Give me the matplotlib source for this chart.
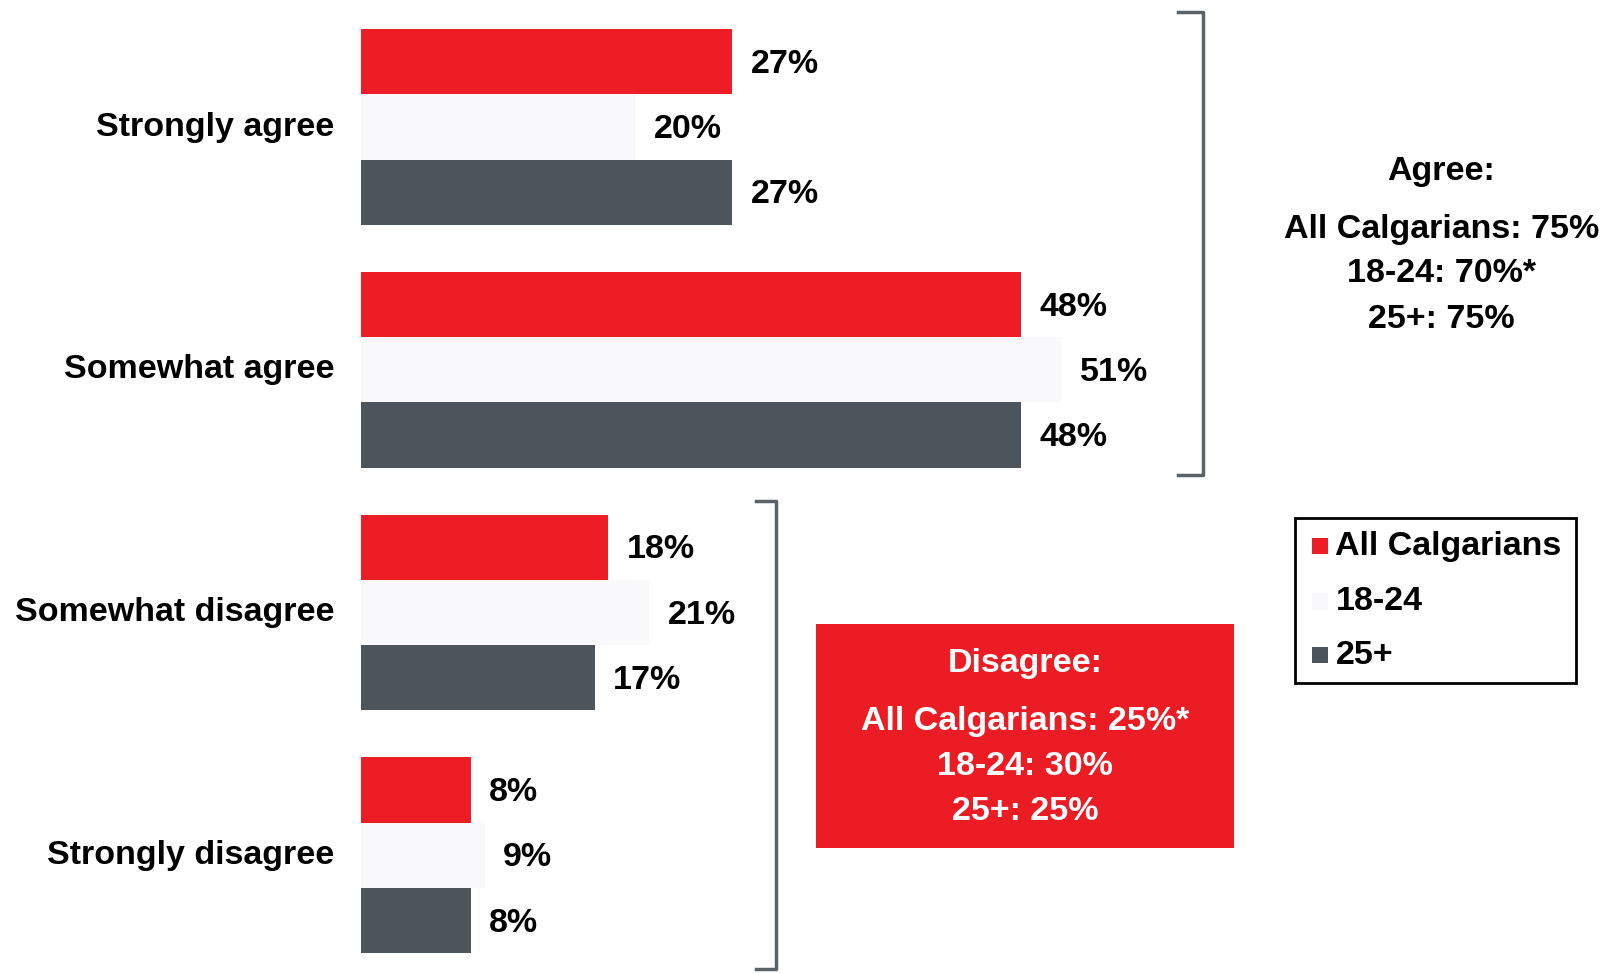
import matplotlib
matplotlib.use("Agg")
import matplotlib.pyplot as plt
from matplotlib.patches import Rectangle
from matplotlib.lines import Line2D

plt.rcParams['font.family'] = ['Liberation Sans', 'DejaVu Sans']
plt.rcParams['font.weight'] = 'bold'

categories = ["Strongly agree", "Somewhat agree", "Somewhat disagree", "Strongly disagree"]
series_names = ["All Calgarians", "18-24", "25+"]
all_calgarians = [27, 48, 18, 8]
age_18_24 = [20, 51, 21, 9]
age_25_plus = [27, 48, 17, 8]
series_values = [all_calgarians, age_18_24, age_25_plus]
series_colors = ["#ee1c24", "#f9f9fb", "#4c545c"]

agree_lines = ["Agree:", "All Calgarians: 75%", "18-24: 70%*", "25+: 75%"]
disagree_lines = ["Disagree:", "All Calgarians: 25%*", "18-24: 30%", "25+: 25%"]

FS = 24.5

W, H = 1612, 973
fig = plt.figure(figsize=(W / 100, H / 100), dpi=100)
fig.patch.set_facecolor("white")

# Pixel layout helpers (figure fraction from 1568x946 layout coordinates)
def fx(x):
    return x / 1568.0

def fy(y):
    return 1 - y / 946.0

# Axes covers the whole figure; x in percent, y in category units
px_per_pct = 13.37 * W / 1568.0
left_px = 351 * W / 1568.0
ax = fig.add_axes([0, 0, 1, 1])
ax.set_xlim(-left_px / px_per_pct, (W - left_px) / px_per_pct)
group_gap_px = 236.0
center0 = 123.5
ax.set_ylim((946 - center0) / group_gap_px, (0 - center0) / group_gap_px)
ax.axis("off")

bar_h = 63.5 / group_gap_px
offsets = [-bar_h, 0, bar_h]
label_pad = 18 / 13.37
label_dy = 2.5 / group_gap_px

for s, (vals, col, off) in enumerate(zip(series_values, series_colors, offsets)):
    ys = [i + off for i in range(len(categories))]
    ax.barh(ys, vals, height=bar_h, left=0, color=col, edgecolor="none")
    for y, v in zip(ys, vals):
        ax.text(v + label_pad, y + label_dy, f"{v}%", ha="left", va="center",
                fontsize=FS, fontweight="bold", color="black")

for i, cat in enumerate(categories):
    ax.text(-26 / 13.37, i, cat, ha="right", va="center",
            fontsize=FS, fontweight="bold", color="black")

bracket_color = "#5b6269"

def bracket(x, y0, y1, tick):
    xs = [fx(x - tick), fx(x), fx(x), fx(x - tick)]
    ys = [fy(y0), fy(y0), fy(y1), fy(y1)]
    fig.add_artist(Line2D(xs, ys, color=bracket_color, lw=2.5,
                          solid_joinstyle="round", transform=fig.transFigure))

bracket(1170, 12, 462, 24)
bracket(755, 487, 942, 20)

# Agree summary
for txt, y in zip(agree_lines, [167, 223, 266, 311]):
    fig.text(fx(1402), fy(y), txt, ha="center", va="center",
             fontsize=FS, fontweight="bold", color="black")

# Disagree summary box
fig.add_artist(Rectangle((fx(794), fy(824)), fx(1200) - fx(794), fy(607) - fy(824),
                         facecolor="#ec1c24", edgecolor="none", transform=fig.transFigure))
for txt, y in zip(disagree_lines, [645, 701, 745, 789]):
    fig.text(fx(997), fy(y), txt, ha="center", va="center",
             fontsize=FS, fontweight="bold", color="white")

# Legend
fig.add_artist(Rectangle((fx(1260), fy(664)), fx(1533) - fx(1260), fy(504) - fy(664),
                         facecolor="white", edgecolor="black", lw=2,
                         transform=fig.transFigure))
for name, col, y in zip(series_names, series_colors, [531, 585, 637]):
    fig.add_artist(Rectangle((fx(1276), fy(y + 8)), fx(16), 16 / 946,
                             facecolor=col, edgecolor="none", transform=fig.transFigure))
    fig.text(fx(1299), fy(y), name, ha="left", va="center",
             fontsize=FS, fontweight="bold", color="black")

fig.savefig("out.png", dpi=100, facecolor="white")
